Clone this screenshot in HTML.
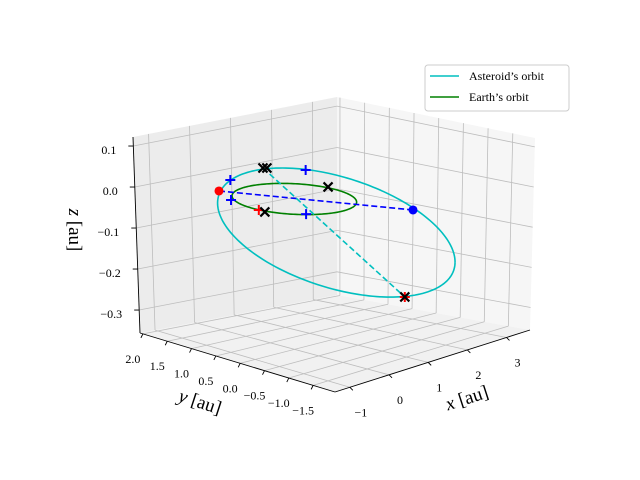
<!DOCTYPE html>
<html><head><meta charset="utf-8"><style>
body{margin:0;background:#fff;}
svg{display:block;font-family:"Liberation Serif",serif;}
</style></head><body>
<svg id="chart" width="640" height="480" viewBox="0 0 640 480">
<g id="panes"></g>
<g id="grid"></g>
<g id="axes"></g>
<g id="ticklabels" font-size="12" fill="#000"></g>
<text x="467" y="404" font-size="19" text-anchor="middle" transform="rotate(-18 467 398)"><tspan font-style="italic">x</tspan> [au]</text>
<text x="200" y="408" font-size="19" text-anchor="middle" transform="rotate(18 200 402)"><tspan font-style="italic">y</tspan> [au]</text>
<text x="0" y="0" font-size="19" text-anchor="middle" transform="translate(69 230) rotate(90)"><tspan font-style="italic">z</tspan> [au]</text>
<g id="series"></g>
<g>
<rect x="425" y="65" width="144" height="46" rx="3" fill="#fff" fill-opacity="0.8" stroke="#ccc" stroke-width="1"/>
<line x1="430" y1="76" x2="459" y2="76" stroke="#00bfbf" stroke-width="1.6"/>
<text x="469" y="80" font-size="12">Asteroid’s orbit</text>
<line x1="430" y1="97" x2="459" y2="97" stroke="#008000" stroke-width="1.6"/>
<text x="469" y="101" font-size="12">Earth’s orbit</text>
</g>
</svg>
<script>
// ---- data ----
const earthCenter = [0.18, -0.15, 0];
const earthRadius = [1];
const asteroidCenter = [1.07, -0.27, -0.10];
const asteroidAxisU = [2.06, -0.76, -0.10];
const asteroidAxisV = [-1.89, -1.50, -0.05];
const perihelionPoint = [-0.98, 0.46, 0.03];
const aphelionPoint = [2.77, -0.49, -0.08];
const dashedCyanStart = [0.33, 0.60, 0.05];
const dashedCyanEnd = [0.72, -1.93, -0.20];
const blackCrossPoints = [[0.33,0.60,0.05],[0.38,0.56,0.05],[1.22,-0.01,0],[-0.85,-0.37,0],[0.72,-1.93,-0.20]];
const bluePlusPoints = [[-0.07,0.96,0.02],[1.18,0.41,0.03],[-0.67,0.47,0],[-0.44,-0.89,0]];
const redPlusPoints = [[-0.83,-0.23,0],[0.72,-1.93,-0.20]];
const xTicks = [-1, 0, 1, 2, 3];
const yTicks = [2.0, 1.5, 1.0, 0.5, 0.0, -0.5, -1.0, -1.5];
const zTicks = [0.1, 0.0, -0.1, -0.2, -0.3];
const xLimits = [-1.38, 3.6];
const yLimits = [-1.95, 2.06];
const zLimits = [-0.356, 0.122];

// ---- projection ----
function proj(p){return [280+39*p[0]-48.6*p[1]-14.6*p[2], 199-10*p[0]-12*p[1]-410*p[2]];}
const NS="http://www.w3.org/2000/svg";
function mk(tag,parent,attrs){const e=document.createElementNS(NS,tag);for(const k in attrs)e.setAttribute(k,attrs[k]);parent.appendChild(e);return e;}
function lerp(a,b,t){return [a[0]+(b[0]-a[0])*t,a[1]+(b[1]-a[1])*t];}
const fx=v=>(v-xLimits[0])/(xLimits[1]-xLimits[0]);
const fy=v=>(yLimits[1]-v)/(yLimits[1]-yLimits[0]);
const fz=v=>(v-zLimits[0])/(zLimits[1]-zLimits[0]);

// box geometry (screen)
const F=[335,392],L=[140,333],B=[337,295],R=[530,330],LT=[133,137],BT=[337,97],RT=[535,138];
const panes=document.getElementById('panes');
let e;
e=mk('polygon',panes,{points:[L,B,BT,LT].map(p=>p.join(',')).join(' '),fill:'#ececec'});


e=mk('polygon',panes,{points:[B,R,RT,BT].map(p=>p.join(',')).join(' '),fill:'#f6f6f6'});


e=mk('polygon',panes,{points:[F,L,B,R].map(p=>p.join(',')).join(' '),fill:'#f1f1f1'});



const grid=document.getElementById('grid');
function gl(a,b,name){const l=mk('line',grid,{x1:a[0],y1:a[1],x2:b[0],y2:b[1],stroke:'#bdbdbd','stroke-width':0.8});

}
xTicks.forEach(v=>{const t=fx(v);
 gl(lerp(L,B,t),lerp(LT,BT,t),'x-grid-left');
 gl(lerp(F,R,t),lerp(L,B,t),'x-grid-floor');});
yTicks.forEach(v=>{const t=fy(v);
 gl(lerp(R,B,1-t),lerp(RT,BT,1-t),'y-grid-right');
 gl(lerp(F,L,1-t),lerp(R,B,1-t),'y-grid-floor');});
zTicks.forEach(v=>{const t=fz(v);
 gl(lerp(L,LT,t),lerp(B,BT,t),'z-grid-left');
 gl(lerp(B,BT,t),lerp(R,RT,t),'z-grid-right');});

const axes=document.getElementById('axes');
function al(a,b,name){const l=mk('line',axes,{x1:a[0],y1:a[1],x2:b[0],y2:b[1],stroke:'#000','stroke-width':0.9});

}
al(L,LT,'z-axis-line');al(F,L,'y-axis-line');al(F,R,'x-axis-line');
const tl=document.getElementById('ticklabels');
function txt(x,y,s,name,anchor){const t=mk('text',tl,{x:x,y:y,'text-anchor':anchor||'middle'});t.textContent=s;

}
const fmt=v=>(v<0?'−':'')+Math.abs(v).toFixed(1);
zTicks.forEach(v=>{const p=lerp(L,LT,fz(v));al(p,[p[0]-5,p[1]],'z-tick');txt(p[0]-17,p[1]+8,fmt(v),'z-tick-label','end');});
yTicks.forEach(v=>{const p=lerp(F,L,1-fy(v));al(p,[p[0]-2,p[1]+4],'y-tick');txt(p[0]-10,p[1]+29,fmt(v),'y-tick-label');});
xTicks.forEach(v=>{const p=lerp(F,R,fx(v));al(p,[p[0]+3,p[1]+3],'x-tick');txt(p[0]+11,p[1]+29,(v<0?'−':'')+Math.abs(v),'x-tick-label');});

// ---- series ----
const S=document.getElementById('series');
function pathFrom(pts){return pts.map((p,i)=>(i?'L':'M')+p[0].toFixed(2)+' '+p[1].toFixed(2)).join(' ');}
const N=200;const ePts=[],aPts=[];
for(let i=0;i<=N;i++){const t=2*Math.PI*i/N,c=Math.cos(t),s=Math.sin(t);
 ePts.push(proj([earthCenter[0]+earthRadius[0]*c,earthCenter[1]+earthRadius[0]*s,earthCenter[2]]));
 aPts.push(proj([0,1,2].map(k=>asteroidCenter[k]+asteroidAxisU[k]*c+asteroidAxisV[k]*s)));}
e=mk('path',S,{d:pathFrom(aPts),fill:'none',stroke:'#00bfbf','stroke-width':1.6});


e=mk('path',S,{d:pathFrom(ePts),fill:'none',stroke:'#008000','stroke-width':1.6});


e=mk('path',S,{d:pathFrom([proj(perihelionPoint),proj(aphelionPoint)]),stroke:'#0000ff','stroke-width':1.6,'stroke-dasharray':'6 3',fill:'none'});


e=mk('path',S,{d:pathFrom([proj(dashedCyanStart),proj(dashedCyanEnd)]),stroke:'#00bfbf','stroke-width':1.6,'stroke-dasharray':'6 3',fill:'none'});


function plus(p,col,name){const q=proj(p);const g=mk('path',S,{d:`M${q[0]-5} ${q[1]}H${q[0]+5}M${q[0]} ${q[1]-5}V${q[1]+5}`,stroke:col,'stroke-width':2});

}
function cross(p){const q=proj(p);const g=mk('path',S,{d:`M${q[0]-4.5} ${q[1]-4.5}L${q[0]+4.5} ${q[1]+4.5}M${q[0]-4.5} ${q[1]+4.5}L${q[0]+4.5} ${q[1]-4.5}`,stroke:'#000','stroke-width':2.2});

}
redPlusPoints.forEach(p=>plus(p,'#ff0000','red-plus-marker'));
blackCrossPoints.forEach(cross);
bluePlusPoints.forEach(p=>plus(p,'#0000ff','blue-plus-marker'));
let q=proj(perihelionPoint);
e=mk('circle',S,{cx:q[0],cy:q[1],r:4.5,fill:'#ff0000'});


q=proj(aphelionPoint);
e=mk('circle',S,{cx:q[0],cy:q[1],r:4.5,fill:'#0000ff'});


</script>
</body></html>
